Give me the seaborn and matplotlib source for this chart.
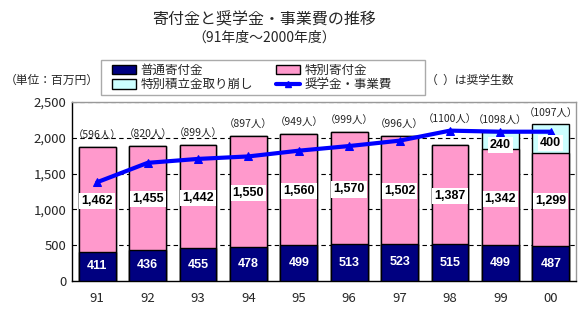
import numpy as np
import pandas as pd
import matplotlib
matplotlib.use("Agg")
import matplotlib.pyplot as plt
from matplotlib.patches import Patch, Rectangle
from matplotlib.lines import Line2D
import seaborn as sns

# ---- data ----
years = ["91", "92", "93", "94", "95", "96", "97", "98", "99", "00"]
regular = [411, 436, 455, 478, 499, 513, 523, 515, 499, 487]          # 普通寄付金
special = [1462, 1455, 1442, 1550, 1560, 1570, 1502, 1387, 1342, 1299]  # 特別寄付金
reserve = [0, 0, 0, 0, 0, 0, 0, 0, 240, 400]                           # 特別積立金取り崩し
expenses = [1380, 1650, 1705, 1740, 1820, 1885, 1960, 2100, 2085, 2085]  # 奨学金・事業費
students = [596, 820, 899, 897, 949, 999, 996, 1100, 1098, 1097]      # 奨学生数

title = "寄付金と奨学金・事業費の推移"
subtitle = "（91年度～2000年度）"
unit_label = "（単位：百万円）"
note_label = "（  ）は奨学生数"
legend_labels = ["普通寄付金", "特別寄付金", "特別積立金取り崩し", "奨学金・事業費"]

NAVY = "#000080"
PINK = "#FF99CC"
CYAN = "#CCFFFF"
BLUE = "#0000FF"

sns.set_style("white")
plt.rcParams["font.family"] = ["Noto Sans CJK JP", "DejaVu Sans"]

df = pd.DataFrame({"year": years, "regular": regular, "special": special,
                   "reserve": reserve, "expenses": expenses, "students": students})
df["cum2"] = df["regular"] + df["special"]
df["cum3"] = df["cum2"] + df["reserve"]

fig = plt.figure(figsize=(5.86, 3.25), dpi=100)
ax = fig.add_axes([72 / 586, 1 - 281 / 325, 504 / 586, 179 / 325])

bw = 0.73
sns.barplot(data=df, x="year", y="cum3", color=CYAN, saturation=1, width=bw,
            edgecolor="black", linewidth=1, ax=ax, zorder=2)
sns.barplot(data=df, x="year", y="cum2", color=PINK, saturation=1, width=bw,
            edgecolor="black", linewidth=1, ax=ax, zorder=3)
sns.barplot(data=df, x="year", y="regular", color=NAVY, saturation=1, width=bw,
            edgecolor="black", linewidth=1, ax=ax, zorder=4)
sns.lineplot(x=np.arange(len(years)), y=df["expenses"], color=BLUE, linewidth=3,
             marker="^", markersize=6, markeredgecolor=BLUE, ax=ax, zorder=6)

ax.set_xlim(-0.5, len(years) - 0.5)
ax.set_ylim(0, 2500)
ax.set_yticks(np.arange(0, 2501, 500))
ax.set_yticklabels([f"{v:,}" for v in range(0, 2501, 500)], fontsize=9.5)
ax.set_xticks(np.arange(len(years)))
ax.set_xticklabels(years, fontsize=9.5)
ax.tick_params(axis="x", pad=8, length=0)
ax.tick_params(axis="y", pad=4, length=0)
ax.set_xlabel("")
ax.set_ylabel("")
for v in range(500, 2501, 500):
    ax.axhline(v, color="black", linestyle=(0, (4, 3)), linewidth=0.8, zorder=1)
for s in ["top", "right"]:
    ax.spines[s].set_color("#999999")
for s in ["left", "bottom"]:
    ax.spines[s].set_color("black")
for s in ax.spines.values():
    s.set_linewidth(1)

lab_font = ["Liberation Sans", "DejaVu Sans"]
# value labels
for i in range(len(years)):
    ax.text(i, df["regular"][i] / 2, f"{df['regular'][i]:,}", ha="center", va="center",
            color="white", fontsize=9, fontweight="bold", zorder=7, family=lab_font)
    ax.text(i, df["regular"][i] + df["special"][i] / 2 - 20, f"{df['special'][i]:,}",
            ha="center", va="center", color="black", fontsize=9, fontweight="bold",
            zorder=7, family=lab_font,
            bbox=dict(facecolor="white", edgecolor="none", pad=1.5))
    if df["reserve"][i] > 0:
        ax.text(i, df["cum2"][i] + df["reserve"][i] / 2 - 60, f"{df['reserve'][i]:,}",
                ha="center", va="center", color="black", fontsize=9, fontweight="bold",
                zorder=7, family=lab_font,
                bbox=dict(facecolor="white", edgecolor="none", pad=1.5))
    top = max(df["cum3"][i], df["expenses"][i])
    ax.annotate(f"（{df['students'][i]}人）", (i, top), xytext=(0, 8),
                textcoords="offset points", ha="center", va="center", fontsize=7.5,
                annotation_clip=False, zorder=7)

# titles
fig.text(264 / 586, 1 - 20 / 325, title, ha="center", va="center", fontsize=11.5)
fig.text(264 / 586, 1 - 38 / 325, subtitle, ha="center", va="center", fontsize=10)
fig.text(52 / 586, 1 - 80 / 325, unit_label, ha="center", va="center", fontsize=8.5)
fig.text(470 / 586, 1 - 80 / 325, note_label, ha="center", va="center", fontsize=8.5)

handles = [Patch(facecolor=NAVY, edgecolor="black"),
           Patch(facecolor=CYAN, edgecolor="black"),
           Patch(facecolor=PINK, edgecolor="black"),
           Line2D([0], [0], color=BLUE, linewidth=3, marker="^", markersize=5)]
labels = [legend_labels[0], legend_labels[2], legend_labels[1], legend_labels[3]]
fig.patches.append(Rectangle((101 / 586, 1 - 95 / 325), 324 / 586, 35 / 325,
                             transform=fig.transFigure, facecolor="white",
                             edgecolor="#AAAAAA", linewidth=1, zorder=0))
leg = fig.legend(handles, labels, ncol=2, loc="center left",
                 bbox_to_anchor=(112 / 586, 1 - 77.5 / 325), fontsize=9,
                 frameon=False, borderpad=0, borderaxespad=0, labelspacing=0.1,
                 handlelength=1.9, handleheight=0.8, handletextpad=0.4,
                 columnspacing=1.8)

fig.savefig("out.png", dpi=100)
